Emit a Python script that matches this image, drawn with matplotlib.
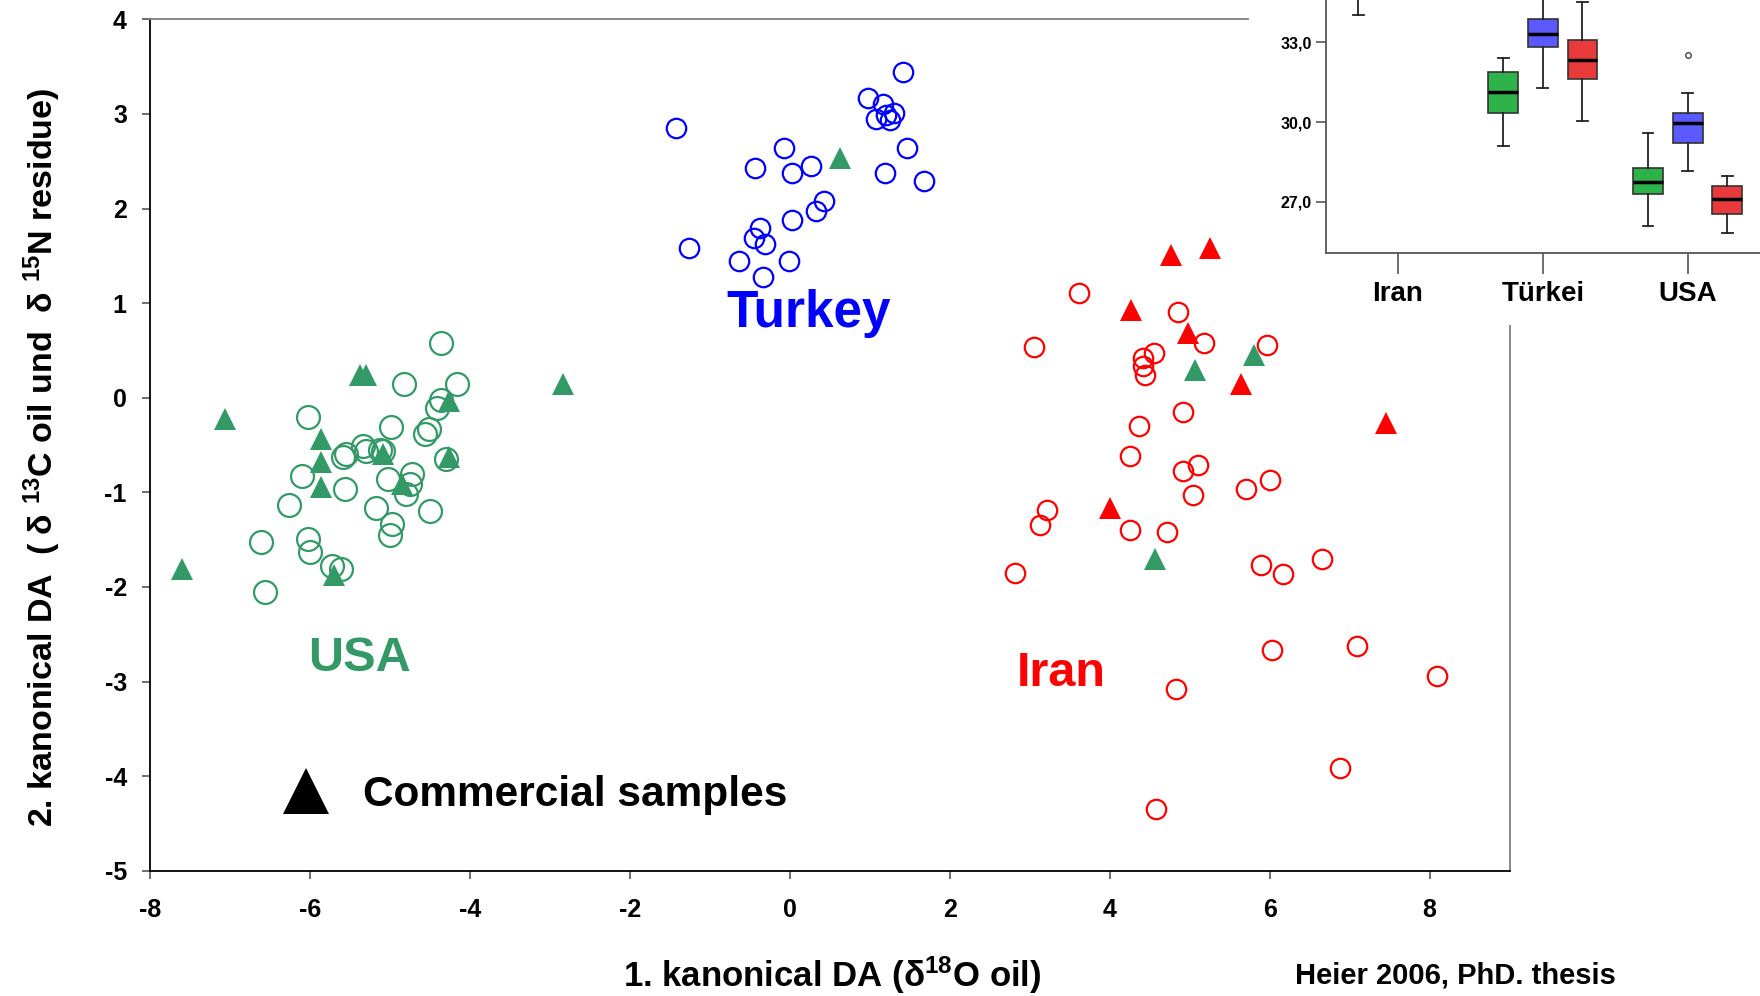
import matplotlib.pyplot as plt
from matplotlib.patches import Rectangle

plt.rcParams['font.family'] = ['Liberation Sans', 'DejaVu Sans']
plt.rcParams['font.weight'] = 'bold'
plt.rcParams['axes.unicode_minus'] = False
plt.rcParams['mathtext.fontset'] = 'custom'
plt.rcParams['mathtext.rm'] = 'Liberation Sans:bold'
plt.rcParams['mathtext.it'] = 'Liberation Sans:bold'
plt.rcParams['mathtext.bf'] = 'Liberation Sans:bold'
plt.rcParams['mathtext.default'] = 'rm'

# reference samples (open circles)
usa_x = [-4.36, -4.83, -4.17, -6.03, -4.99, -4.52, -4.57, -4.36, -4.41, -5.55, -5.59,
         -5.34, -5.30, -5.13, -5.09, -6.11, -5.57, -5.03, -4.73, -4.76, -4.80, -4.30,
         -6.27, -5.18, -4.50, -4.98, -5.01, -6.62, -6.03, -6.01, -5.73, -5.62, -6.57]
usa_y = [0.58, 0.14, 0.14, -0.20, -0.31, -0.33, -0.38, -0.02, -0.11, -0.60, -0.63,
         -0.51, -0.56, -0.55, -0.56, -0.83, -0.97, -0.86, -0.81, -0.91, -1.02, -0.65,
         -1.13, -1.17, -1.20, -1.33, -1.45, -1.52, -1.49, -1.63, -1.78, -1.81, -2.05]

turkey_x = [-1.43, 1.41, 0.97, 1.16, 1.30, 1.08, 1.20, 1.25, 1.46, -0.07, -0.44, 0.02,
            0.26, 1.19, 1.68, 0.43, 0.32, 0.02, -0.37, -0.45, -0.31, -1.26, -0.64, -0.01,
            -0.34]
turkey_y = [2.85, 3.44, 3.17, 3.11, 3.01, 2.95, 2.99, 2.94, 2.64, 2.64, 2.43, 2.38,
            2.45, 2.38, 2.29, 2.08, 1.97, 1.88, 1.79, 1.69, 1.62, 1.58, 1.44, 1.44,
            1.28]

iran_x = [3.62, 4.85, 5.18, 5.97, 3.05, 4.55, 4.41, 4.41, 4.44, 4.91, 4.36, 4.25, 5.10,
          4.91, 5.04, 5.70, 6.00, 3.21, 3.13, 4.25, 4.71, 2.81, 5.89, 6.17, 6.66, 6.03,
          7.09, 8.09, 4.83, 6.88, 4.58]
iran_y = [1.11, 0.91, 0.58, 0.56, 0.54, 0.47, 0.42, 0.33, 0.24, -0.15, -0.30, -0.62,
          -0.71, -0.77, -1.03, -0.96, -0.87, -1.19, -1.35, -1.40, -1.42, -1.85, -1.77,
          -1.86, -1.70, -2.67, -2.62, -2.94, -3.08, -3.91, -4.35]

# commercial samples (filled triangles)
comm_green_x = [-7.07, -7.60, -5.38, -5.30, -2.84, -5.87, -5.87, -5.87, -5.09, -4.86,
                -4.26, -4.26, -5.71, 0.63, 5.06, 5.80, 4.57]
comm_green_y = [-0.22, -1.81, 0.24, 0.24, 0.15, -0.44, -0.68, -0.94, -0.60, -0.91,
                -0.04, -0.63, -1.87, 2.53, 0.29, 0.45, -1.70]
comm_red_x = [4.76, 5.25, 4.27, 4.98, 5.64, 7.46, 4.00]
comm_red_y = [1.51, 1.58, 0.93, 0.68, 0.14, -0.27, -1.17]

# inset boxplot (green, blue, red per country)
inset_cats = ['Iran', 'Türkei', 'USA']
box_green = [(34.05, 35.2, 35.9, 36.6, 37.8, []),
             (29.08, 30.34, 31.15, 31.89, 32.43, []),
             (26.09, 27.28, 27.75, 28.25, 29.57, [])]
box_blue = [(35.5, 36.5, 37.2, 37.9, 39.0, []),
            (31.30, 32.81, 33.32, 33.88, 35.2, []),
            (28.15, 29.20, 29.97, 30.35, 31.11, [32.52])]
box_red = [(35.0, 36.0, 36.8, 37.5, 38.5, []),
           (30.05, 31.62, 32.35, 33.10, 34.51, []),
           (25.81, 26.52, 27.08, 27.57, 27.98, [])]

GREEN = '#339966'
fig = plt.figure(figsize=(17.6, 9.96), dpi=100)
ax = fig.add_axes([0.0855, 0.1258, 0.7722, 0.8548])

ax.plot(usa_x, usa_y, 'o', mfc='none', mec=GREEN, ms=16.5, mew=1.6)
ax.plot(turkey_x, turkey_y, 'o', mfc='none', mec='#0000ff', ms=14, mew=1.6)
ax.plot(iran_x, iran_y, 'o', mfc='none', mec='#ff0000', ms=14, mew=1.6)
ax.plot(comm_green_x, comm_green_y, '^', color=GREEN, ms=16.5, mew=0)
ax.plot(comm_red_x, comm_red_y, '^', color='#ff0000', ms=16.5, mew=0)

ax.text(0.23, 0.75, 'Turkey', color='#0000ff', fontsize=37, ha='center', va='baseline')
ax.text(-5.38, -2.89, 'USA', color=GREEN, fontsize=35, ha='center', va='baseline')
ax.text(3.39, -3.05, 'Iran', color='#ff0000', fontsize=35, ha='center', va='baseline')

# legend for commercial samples
ax.plot([0.1144], [0.0936], '^', color='black', ms=33, mew=0, transform=ax.transAxes)
ax.text(0.1566, 0.0763, 'Commercial samples', fontsize=30.5, transform=ax.transAxes,
        ha='left', va='baseline')

ax.set_xlim(-8, 9)
ax.set_ylim(-5, 4)
ax.set_xticks(range(-8, 9, 2))
ax.set_yticks(range(-5, 5))
ax.tick_params(axis='both', direction='out', length=6, width=1.2, color='#555555',
               labelsize=18)
ax.tick_params(axis='x', pad=14)
ax.tick_params(axis='y', pad=11)
for s in ['left', 'bottom']:
    ax.spines[s].set_color('black')
    ax.spines[s].set_linewidth(1.3)
for s in ['top', 'right']:
    ax.spines[s].set_color('#808080')
    ax.spines[s].set_linewidth(1.3)

fig.text(0.473, 0.009, '1. kanonical DA (δ$^{18}$O oil)', fontsize=25, ha='center', va='baseline')
fig.text(0.024, 0.541, '2. kanonical DA  ( δ $^{13}$C oil und  δ $^{15}$N residue)',
         fontsize=24.5, rotation=90, ha='center', va='center')
fig.text(0.827, 0.013, 'Heier 2006, PhD. thesis', fontsize=21, ha='center', va='baseline')

# inset picture pasted over the top right corner
fig.add_artist(Rectangle((0.7097, 0.6737), 0.2903, 0.3263, transform=fig.transFigure,
                         facecolor='white', edgecolor='none', zorder=1))
ax_in = fig.add_axes([0.7532, 0.7457, 0.2468, 0.2543], zorder=2)
colors = ['#2db34a', '#5a5aff', '#e83a3a']
offsets = [-0.274, 0.0, 0.274]
for group, col, off in zip([box_green, box_blue, box_red], colors, offsets):
    stats = []
    for lo, q1, med, q3, hi, fl in group:
        stats.append(dict(whislo=lo, q1=q1, med=med, q3=q3, whishi=hi, fliers=fl))
    ax_in.bxp(stats, positions=[i + off for i in range(len(stats))], widths=0.207,
              capwidths=0.074, patch_artist=True,
              boxprops=dict(facecolor=col, edgecolor='#333333', linewidth=1.2),
              medianprops=dict(color='black', linewidth=2.5),
              whiskerprops=dict(color='#222222', linewidth=1.3),
              capprops=dict(color='#222222', linewidth=1.3),
              flierprops=dict(marker='o', mfc='none', mec='#444444', ms=4, mew=1))
ax_in.set_xlim(-0.5, 2.5)
ax_in.set_ylim(25.05, 34.6)
ax_in.set_xticks(range(len(inset_cats)))
ax_in.set_xticklabels(inset_cats, fontsize=20)
ax_in.set_yticks([27, 30, 33])
ax_in.set_yticklabels(['27,0', '30,0', '33,0'], fontsize=11.5)
ax_in.tick_params(axis='x', length=15, width=1.2, color='#555555', pad=5)
ax_in.tick_params(axis='y', length=7, width=1.2, color='#555555', pad=3)
ax_in.spines['top'].set_visible(False)
ax_in.spines['right'].set_visible(False)
for s in ['left', 'bottom']:
    ax_in.spines[s].set_color('#555555')
    ax_in.spines[s].set_linewidth(1.3)

fig.savefig('out.png', dpi=100)
